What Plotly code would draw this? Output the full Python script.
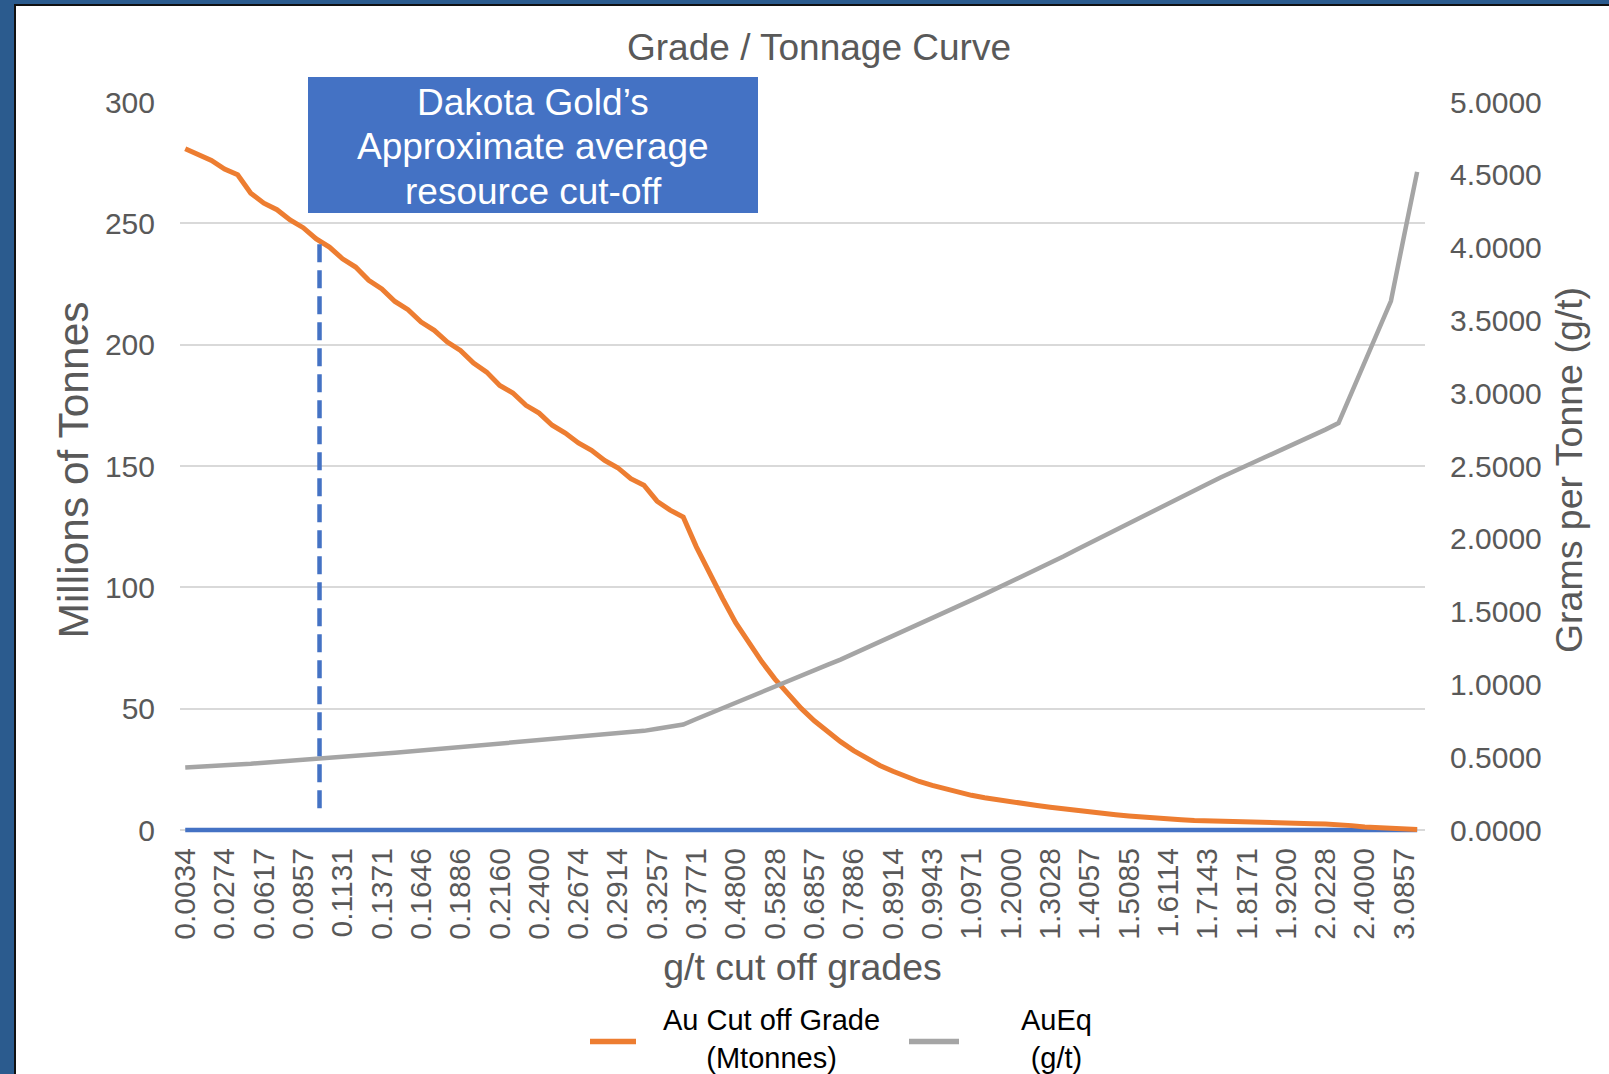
import numpy as np
import plotly.graph_objects as go

# ---------------- data ----------------
cutoff_gpt = [
    "0.0034", "0.0103", "0.0171", "0.0274", "0.0343", "0.0514", "0.0617", "0.0686", "0.0789", "0.0857",
    "0.0960", "0.1029", "0.1131", "0.1200", "0.1303", "0.1371", "0.1474", "0.1543", "0.1646", "0.1714",
    "0.1817", "0.1886", "0.1989", "0.2057", "0.2160", "0.2229", "0.2331", "0.2400", "0.2503", "0.2571",
    "0.2674", "0.2743", "0.2846", "0.2914", "0.3017", "0.3086", "0.3257", "0.3429", "0.3600", "0.3771",
    "0.4114", "0.4457", "0.4800", "0.5143", "0.5486", "0.5828", "0.6171", "0.6514", "0.6857", "0.7200",
    "0.7543", "0.7886", "0.8228", "0.8571", "0.8914", "0.9257", "0.9600", "0.9943", "1.0286", "1.0628",
    "1.0971", "1.1314", "1.1657", "1.2000", "1.2343", "1.2686", "1.3028", "1.3371", "1.3714", "1.4057",
    "1.4400", "1.4743", "1.5085", "1.5428", "1.5771", "1.6114", "1.6457", "1.6800", "1.7143", "1.7486",
    "1.7828", "1.8171", "1.8514", "1.8857", "1.9200", "1.9543", "1.9886", "2.0228", "2.0571", "2.2286",
    "2.4000", "2.7428", "2.9143", "3.0857", "3.4286",
]

tonnes_mt = [
    280.7, 278.2, 275.9, 272.4, 270.0, 262.4, 258.3, 255.6, 251.4, 248.2,
    243.6, 240.2, 235.4, 232.0, 226.5, 223.0, 217.8, 214.4, 209.3, 205.9,
    201.1, 197.6, 192.4, 188.7, 183.2, 180.1, 175.0, 171.8, 166.8, 163.6,
    159.5, 156.5, 152.3, 149.3, 144.8, 142.1, 135.5, 131.8, 129.0, 116.7,
    105.7, 95.4, 85.4, 76.9, 69.3, 62.2, 56.3, 50.1, 45.0, 40.5,
    36.4, 32.7, 29.5, 26.6, 24.2, 22.0, 20.0, 18.4, 16.9, 15.5,
    14.3, 13.3, 12.4, 11.6, 10.8, 10.1, 9.4, 8.7, 8.0, 7.4,
    6.8, 6.3, 5.8, 5.3, 4.9, 4.5, 4.2, 3.9, 3.7, 3.5,
    3.3, 3.1, 3.0, 2.9, 2.8, 2.7, 2.6, 2.5, 2.4, 1.8,
    1.2, 0.9, 0.6, 0.4, 0.2,
]

aueq_gpt = [
    0.430, 0.434, 0.438, 0.443, 0.447, 0.455, 0.462, 0.468, 0.474, 0.480,
    0.487, 0.494, 0.502, 0.509, 0.516, 0.523, 0.530, 0.538, 0.545, 0.553,
    0.561, 0.568, 0.576, 0.584, 0.592, 0.599, 0.607, 0.615, 0.623, 0.631,
    0.639, 0.647, 0.655, 0.664, 0.672, 0.681, 0.695, 0.710, 0.724, 0.762,
    0.800, 0.838, 0.876, 0.914, 0.952, 0.990, 1.028, 1.064, 1.099, 1.134,
    1.170, 1.210, 1.251, 1.292, 1.333, 1.374, 1.415, 1.456, 1.497, 1.538,
    1.579, 1.620, 1.662, 1.704, 1.746, 1.789, 1.832, 1.878, 1.924, 1.970,
    2.016, 2.062, 2.108, 2.153, 2.199, 2.245, 2.289, 2.333, 2.377, 2.421,
    2.465, 2.505, 2.545, 2.585, 2.625, 2.665, 2.705, 2.750, 2.795, 3.005,
    3.215, 3.425, 3.633, 4.080, 4.520,
]

baseline_mt = [0.0] * len(cutoff_gpt)   # flat series drawn along the zero line

resource_cutoff_gpt = 0.0977          # approximate average resource cut-off
resource_marker_bottom_mt = 9.0

label_step = 3
tick_labels = cutoff_gpt[::label_step]

title_text = "Grade / Tonnage Curve"
box_lines = ["Dakota Gold’s", "Approximate average", "resource cut-off"]
name_tonnes = "Au Cut off Grade<br>(Mtonnes)"
name_grade = "AuEq<br>(g/t)"

# ---------------- layout geometry ----------------
W, H = 1609, 1074
Y1_MAX, Y2_MAX = 300, 5
PAD = 8                      # px of room under the zero line so the baseline is not clipped
L, R, T = 180, 184, 102
B = 244 - PAD
PW, PH = W - L - R, H - T - B
y1_pad = PAD * Y1_MAX / (PH - PAD)
y2_pad = PAD * Y2_MAX / (PH - PAD)


def px(x):
    return (x - L) / PW


def py(y):
    return (H - B - y) / PH


FONT = "Liberation Sans, Arial, sans-serif"
GREY_TXT = "#595959"
BLUE = "#4472C4"
ORANGE = "#ED7D31"
GREY = "#A5A5A5"
FRAME = "#2B5B8E"

fig = go.Figure()

fig.add_trace(go.Scatter(
    x=cutoff_gpt, y=baseline_mt, mode="lines", showlegend=False,
    line=dict(color=BLUE, width=4.5), hoverinfo="skip",
))
fig.add_trace(go.Scatter(
    x=cutoff_gpt, y=tonnes_mt, mode="lines", name=name_tonnes, showlegend=False,
    line=dict(color=ORANGE, width=5),
))
fig.add_trace(go.Scatter(
    x=cutoff_gpt, y=aueq_gpt, mode="lines", name=name_grade, yaxis="y2", showlegend=False,
    line=dict(color=GREY, width=4.5),
))

# dashed marker at the resource cut-off
num_cut = np.array([float(v) for v in cutoff_gpt])
cut_idx = float(np.interp(resource_cutoff_gpt, num_cut, np.arange(len(num_cut))))
cut_top = float(np.interp(cut_idx, np.arange(len(tonnes_mt)), tonnes_mt))

shapes = [
    dict(type="line", xref="x", yref="y", x0=cut_idx, x1=cut_idx,
         y0=resource_marker_bottom_mt, y1=cut_top,
         line=dict(color=BLUE, width=4.5, dash="18px,8px")),
    # callout box
    dict(type="rect", xref="paper", yref="paper", x0=px(308), x1=px(758), y0=py(213), y1=py(77),
         fillcolor=BLUE, line=dict(width=0), layer="above"),
    # legend keys
    dict(type="line", xref="paper", yref="paper", x0=px(590), x1=px(636), y0=py(1041.5), y1=py(1041.5),
         line=dict(color=ORANGE, width=5.5)),
    dict(type="line", xref="paper", yref="paper", x0=px(909), x1=px(959), y0=py(1041.5), y1=py(1041.5),
         line=dict(color=GREY, width=5.5)),
    # outer frame
    dict(type="rect", xref="paper", yref="paper", x0=px(0), x1=px(14), y0=py(H), y1=py(0),
         fillcolor=FRAME, line=dict(width=0), layer="above"),
    dict(type="rect", xref="paper", yref="paper", x0=px(0), x1=px(W), y0=py(4), y1=py(0),
         fillcolor=FRAME, line=dict(width=0), layer="above"),
    dict(type="rect", xref="paper", yref="paper", x0=px(14), x1=px(16), y0=py(H), y1=py(4),
         fillcolor="#111111", line=dict(width=0), layer="above"),
    dict(type="rect", xref="paper", yref="paper", x0=px(14), x1=px(W), y0=py(6), y1=py(4),
         fillcolor="#111111", line=dict(width=0), layer="above"),
]

annotations = []
for line_text, y_line in zip(box_lines, [102, 147, 191]):
    annotations.append(dict(
        xref="paper", yref="paper", x=px(533), y=py(y_line), xanchor="center", yanchor="middle",
        text=line_text, showarrow=False, align="center",
        font=dict(family=FONT, size=37, color="white"),
    ))
annotations += [
    # legend texts
    dict(xref="paper", yref="paper", x=px(771), y=py(1038.5), xanchor="center", yanchor="middle",
         text=name_tonnes, showarrow=False, align="center",
         font=dict(family=FONT, size=29, color="black")),
    dict(xref="paper", yref="paper", x=px(1056), y=py(1038.5), xanchor="center", yanchor="middle",
         text=name_grade, showarrow=False, align="center",
         font=dict(family=FONT, size=29, color="black")),
]

fig.update_layout(
    width=W, height=H,
    margin=dict(l=L, r=R, t=T, b=B, autoexpand=False),
    paper_bgcolor="white", plot_bgcolor="white",
    font=dict(family=FONT, color=GREY_TXT, size=30),
    title=dict(text=title_text, x=819 / W, y=1 - 47 / H, xref="container", yref="container",
               xanchor="center", yanchor="middle",
               font=dict(family=FONT, size=37, color=GREY_TXT)),
    xaxis=dict(
        type="category", range=[-0.4, len(cutoff_gpt) - 0.4],
        tickmode="array", tickvals=tick_labels, ticktext=tick_labels,
        tickangle=-90, ticks="", showgrid=False, zeroline=False, showline=False,
        tickfont=dict(size=30, color=GREY_TXT), ticklabelstandoff=3,
        title=dict(text="g/t cut off grades", font=dict(size=37.5, color=GREY_TXT), standoff=14),
        automargin=False,
    ),
    yaxis=dict(
        range=[-y1_pad, Y1_MAX], tickmode="linear", tick0=0, dtick=50,
        showgrid=True, gridcolor="#D9D9D9", gridwidth=1.5,
        zeroline=False, showline=False, ticks="",
        tickfont=dict(size=30, color=GREY_TXT), ticklabelstandoff=24,
        title=dict(text="Millions of Tonnes", font=dict(size=42.5, color=GREY_TXT), standoff=3),
        automargin=False,
    ),
    yaxis2=dict(
        overlaying="y", side="right", range=[-y2_pad, Y2_MAX], tickmode="linear", tick0=0, dtick=0.5,
        tickformat=".4f",
        showgrid=False, zeroline=False, showline=False, ticks="",
        tickfont=dict(size=30, color=GREY_TXT), ticklabelstandoff=24,
        title=dict(text="Grams per Tonne (g/t)", font=dict(size=37.5, color=GREY_TXT), standoff=14),
        automargin=False,
    ),
    shapes=shapes,
    annotations=annotations,
    showlegend=False,
)

fig.write_html(
    "out.html",
    config={"displayModeBar": False},
    post_script="document.body.style.margin='0px';document.documentElement.style.overflow='hidden';",
)
